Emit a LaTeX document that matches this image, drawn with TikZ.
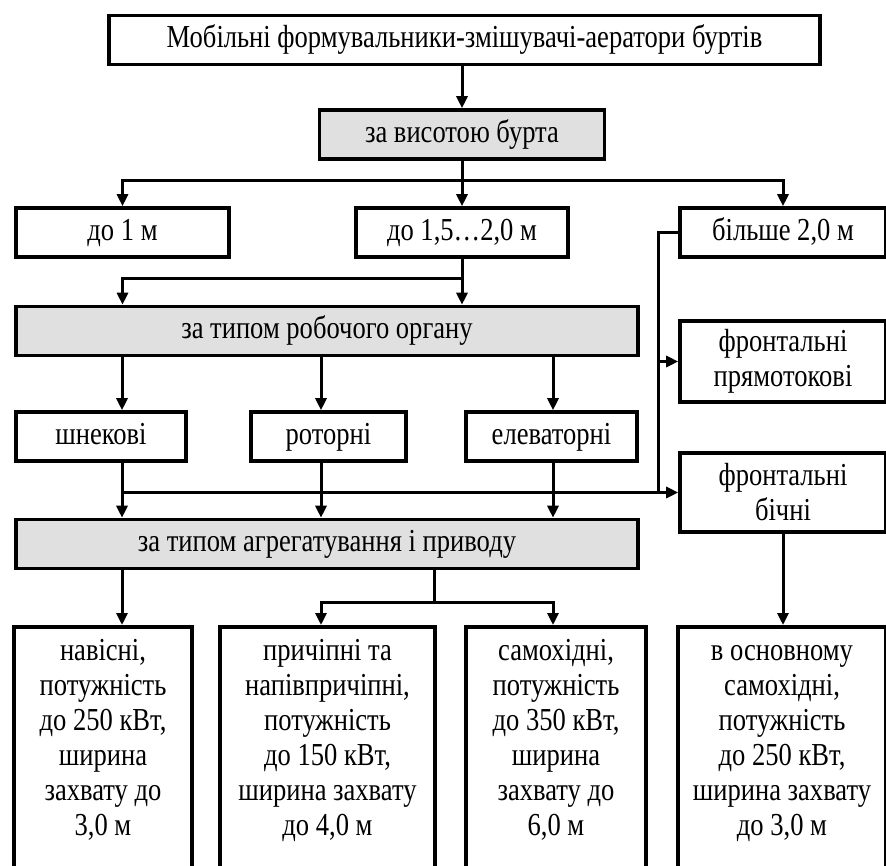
\documentclass[tikz,border=0pt]{standalone}
\usepackage{fontspec}
\setmainfont[FakeStretch=0.83]{Liberation Serif}
\usetikzlibrary{arrows.meta,positioning}

\tikzset{
  frame/.style={draw, line width=3.6pt, inner sep=0pt, font=\fontsize{32}{35}\selectfont},
  box/.style={frame, minimum height=49pt, text height=22pt, text depth=7pt},
  hdr/.style={box, fill=black!12},
  pair/.style={frame, align=center, minimum width=206pt},
  tall/.style={draw, line width=3.6pt, anchor=north, minimum height=260pt},
  txt/.style={align=center, inner sep=0pt, font=\fontsize{32}{35}\selectfont},
  arr/.style={line width=3pt, -{Triangle[length=12pt,width=11pt]}},
  ln/.style={line width=3pt}
}

\begin{document}
\begin{tikzpicture}[x=1pt, y=-1pt]
  \useasboundingbox (0,0) rectangle (886,865);

  % columns and junctions
  \coordinate (c1) at (122,0);
  \coordinate (c2) at (321,0);
  \coordinate (c3) at (553,0);
  \coordinate (sx) at (658,0);
  \coordinate (jx) at (434,0);
  \coordinate (j1) at (0,180);
  \coordinate (j2) at (0,278);
  \coordinate (j4) at (0,602);

  % top
  \node[box, minimum width=711pt] (top) at (464.5,40) {Мобільні формувальники-змішувачі-аератори буртів};
  \node[hdr, minimum width=285pt] (hgt) at (462,134.5) {за висотою бурта};

  % by height
  \node[box, minimum width=213pt] (h1) at (122.5,232.5) {до 1 м};
  \node[box, minimum width=212pt] (h2) at (462,232.5) {до 1,5…2,0 м};
  \node[box, minimum width=206pt] (h3) at (783,232.5) {більше 2,0 м};

  \node[hdr, minimum width=622pt] (org) at (327,331) {за типом робочого органу};
  \node[box, minimum width=170pt] (b1) at (101,436.5) {шнекові};
  \node[box, minimum width=155pt] (b2) at (328.5,436.5) {роторні};
  \node[box, minimum width=171pt] (b3) at (551.5,436.5) {елеваторні};

  \node[pair, minimum height=81pt] (pry) at (783,361.5) {фронтальні\\прямотокові};
  \node[pair, minimum height=79pt] (bic) at (783,492.5) {фронтальні\\бічні};

  \node[hdr, minimum width=622pt] (agg) at (327,544) {за типом агрегатування і приводу};

  % bottom row
  \node[tall, minimum width=178pt] (d1) at (103,625) {};
  \node[tall, minimum width=215pt] (d2) at (327.5,625) {};
  \node[tall, minimum width=180pt] (d3) at (556,625) {};
  \node[tall, minimum width=208pt] (d4) at (782,625) {};
  \node[txt, below=11pt of d1.north] (t1) {\strut навісні,\\потужність\\до 250 кВт,\\ширина\\захвату до\\3,0 м};
  \node[txt, below=11pt of d2.north] (t2) {\strut причіпні та\\напівпричіпні,\\потужність\\до 150 кВт,\\ширина захвату\\до 4,0 м};
  \node[txt, below=11pt of d3.north] (t3) {\strut самохідні,\\потужність\\до 350 кВт,\\ширина\\захвату до\\6,0 м};
  \node[txt, below=11pt of d4.north] (t4) {\strut в основному\\самохідні,\\потужність\\до 250 кВт,\\ширина захвату\\до 3,0 м};

  % connectors
  \draw[arr] (top.south -| hgt) -- (hgt);
  \draw[ln] (hgt) -- (hgt |- j1);
  \draw[arr] (hgt |- j1) -| (h1);
  \draw[arr] (hgt |- j1) -| (h3);
  \draw[arr] (hgt) -- (h2);

  \draw[arr] (h2.south) -- (h2.south |- org.north);
  \draw[arr] (h2.south |- j2) -| (org.north -| h1);

  \foreach \c/\n in {c1/b1, c2/b2, c3/b3} {
    \draw[arr] (org.south -| \c) -- (\n.north -| \c);
    \draw[arr] (\n.south -| \c) -- (agg.north -| \c);
  }
  \draw[arr] (bic.west -| c1) -- (bic.west);
  \draw[ln] (h3.west) -- (h3.west -| sx) -- (bic.west -| sx);
  \draw[arr] (pry.west -| sx) -- (pry.west);

  \draw[arr] (agg.south -| c1) -- (d1.north -| c1);
  \draw[ln] (agg.south -| jx) -- (j4 -| jx);
  \draw[arr] (j4 -| jx) -| (d2.north -| c2);
  \draw[arr] (j4 -| jx) -| (d3.north -| c3);
  \draw[arr] (bic) -- (bic |- d4.north);
\end{tikzpicture}
\end{document}
